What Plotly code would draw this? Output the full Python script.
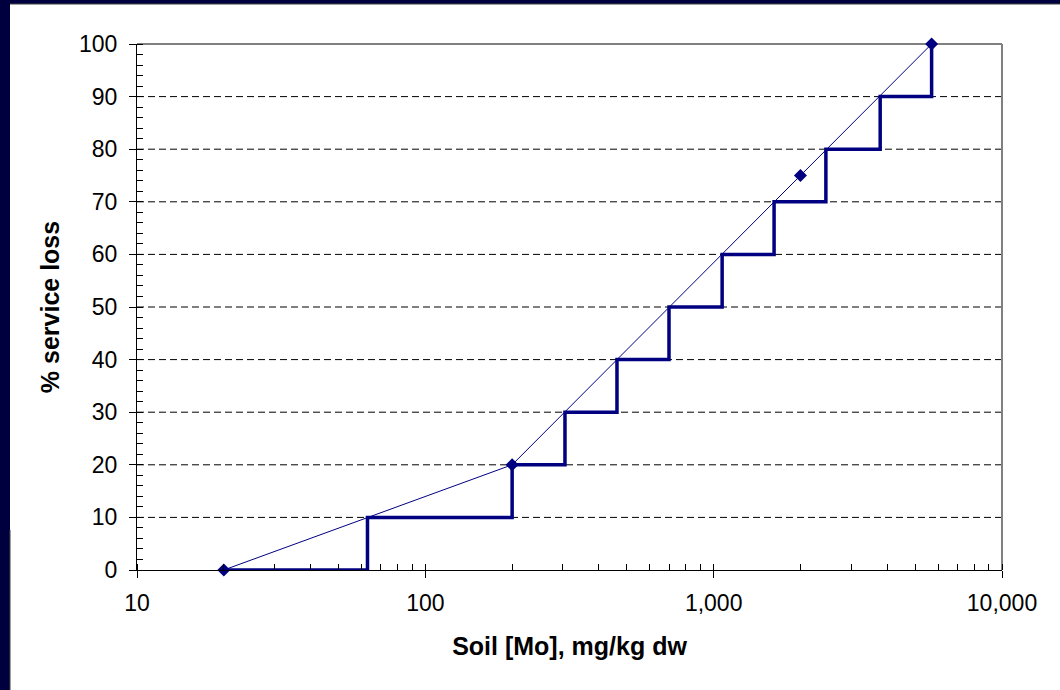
import plotly.graph_objects as go

# Observed data points (markers and thin connecting line)
obs_x = [20, 200, 2000, 5700]
obs_y = [0, 20, 75, 100]

# Step function break points
step_x = [20, 63, 200, 305, 462, 700, 1070, 1620, 2450, 3780, 5700]
step_y = [0, 10, 20, 30, 40, 50, 60, 70, 80, 90, 100]

x_tickvals = [10, 100, 1000, 10000]
x_ticktext = ["10", "100", "1,000", "10,000"]
y_tickvals = [0, 10, 20, 30, 40, 50, 60, 70, 80, 90, 100]

NAVY = "#000080"
FRAME = "#00003f"

fig = go.Figure()
fig.add_trace(go.Scatter(x=step_x, y=step_y, mode="lines", line_shape="hv",
                         line=dict(color=NAVY, width=3.5), hoverinfo="skip",
                         showlegend=False, cliponaxis=False))
fig.add_trace(go.Scatter(x=obs_x, y=obs_y, mode="lines+markers",
                         line=dict(color=NAVY, width=1),
                         marker=dict(symbol="diamond", size=10, color=NAVY),
                         showlegend=False, cliponaxis=False))

font_family = "Liberation Sans, Arial, sans-serif"

fig.update_layout(
    width=1060, height=690,
    margin=dict(l=137, r=58, t=44, b=120),
    paper_bgcolor="white", plot_bgcolor="rgba(0,0,0,0)",
    font=dict(family=font_family, color="black", size=23),
    xaxis=dict(
        type="log", range=[1, 4],
        tickvals=x_tickvals, ticktext=x_ticktext,
        showline=True, linecolor="black", linewidth=1,
        ticks="outside", ticklen=7, tickcolor="black",
        ticklabelstandoff=5,
        showgrid=False, zeroline=False,
        minor=dict(ticks="inside", ticklen=6, tickcolor="black", dtick="D1", showgrid=False),
        title=dict(text="<b>Soil [Mo], mg/kg dw</b>", font=dict(size=25), standoff=22),
        tickfont=dict(size=23),
    ),
    yaxis=dict(
        range=[0, 100], tickvals=y_tickvals,
        showline=True, linecolor="black", linewidth=1,
        ticks="outside", ticklen=7, tickcolor="black",
        ticklabelstandoff=7,
        showgrid=False, zeroline=False,
        minor=dict(ticks="inside", ticklen=6, tickcolor="black", dtick=2, showgrid=False),
        title=dict(text="<b>% service loss</b>", font=dict(size=25), standoff=12),
        tickfont=dict(size=23),
    ),
)

# Dashed horizontal gridlines (interior ticks only)
for gv in y_tickvals[1:-1]:
    fig.add_shape(type="line", xref="paper", yref="y", x0=0, x1=1, y0=gv, y1=gv,
                  line=dict(color="black", width=1, dash="7px,4px"), layer="below")

# Plot border top and right (gray)
fig.add_shape(type="line", xref="paper", yref="paper", x0=0, x1=1, y0=1, y1=1,
              line=dict(color="#808080", width=2), layer="below")
fig.add_shape(type="line", xref="paper", yref="paper", x0=1, x1=1, y0=0, y1=1,
              line=dict(color="#808080", width=2), layer="below")

# Navy frame strips (left and top)
fig.add_shape(type="rect", xref="paper", yref="paper", xsizemode="pixel", ysizemode="pixel",
              xanchor=0, yanchor=0, x0=-140, x1=-127, y0=-130, y1=600,
              fillcolor=FRAME, line=dict(width=0), layer="below")
fig.add_shape(type="rect", xref="paper", yref="paper", xsizemode="pixel", ysizemode="pixel",
              xanchor=0, yanchor=1, x0=-140, x1=940, y0=40, y1=60,
              fillcolor=FRAME, line=dict(width=0), layer="below")
fig.add_shape(type="line", xref="paper", yref="paper", xsizemode="pixel", ysizemode="pixel",
              xanchor=0, yanchor=1, x0=-127, x1=940, y0=40, y1=40,
              line=dict(color="#404040", width=1), layer="below")
fig.add_shape(type="line", xref="paper", yref="paper", xsizemode="pixel", ysizemode="pixel",
              xanchor=0, yanchor=0, x0=-127, x1=-127, y0=-130, y1=40,
              line=dict(color="#404040", width=1), layer="below")

fig.write_html("out.html", config={"displayModeBar": False},
               post_script="document.body.style.margin='0';document.body.style.overflow='hidden';")
